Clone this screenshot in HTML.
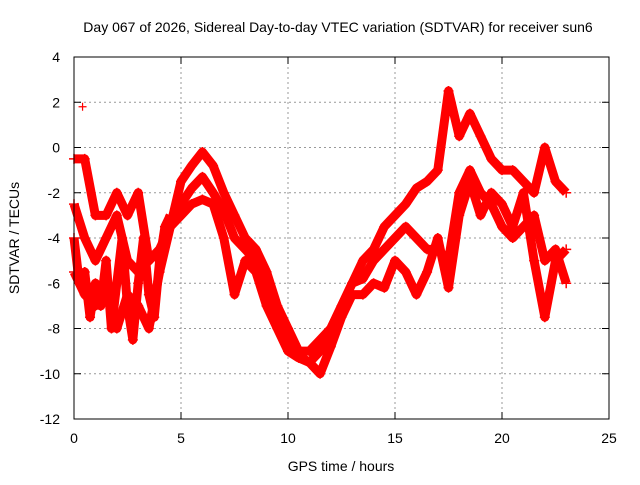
<!DOCTYPE html>
<html><head><meta charset="utf-8"><style>
body{margin:0;background:#fff;width:640px;height:480px;overflow:hidden}
svg{font-family:"Liberation Sans",sans-serif;font-size:14px}
</style></head><body>
<svg id="c" width="640" height="480">
<text x="338" y="32" text-anchor="middle">Day 067 of 2026, Sidereal Day-to-day VTEC variation (SDTVAR) for receiver sun6</text>
<text x="341" y="471" text-anchor="middle">GPS time / hours</text>
<text transform="translate(19,238) rotate(-90)" text-anchor="middle">SDTVAR / TECUs</text>
<g id="grid"></g><g id="marks"></g>
<rect x="74" y="57" width="535" height="362" fill="none" stroke="#000" stroke-width="1"/>
</svg>
<script>
const xTicks=[0,5,10,15,20,25];
const yTicks=[4,2,0,-2,-4,-6,-8,-10,-12];
const times=[0,0.5,1,1.5,2,2.5,3,3.5,4,4.5,5,5.5,6,6.5,7,7.5,8,8.5,9,9.5,10,10.5,11,11.5,12,12.5,13,13.5,14,14.5,15,15.5,16,16.5,17,17.5,18,18.5,19,19.5,20,20.5,21,21.5,22,22.5,23];
const trackUpper=[-0.5,-0.5,-3,-3,-2,-3,-2,-5,-4.5,-3.5,-1.5,-0.8,-0.2,-0.8,-2,-3,-4,-4.5,-5.5,-7,-8,-9,-9,-8.5,-8,-7,-6,-5,-4.5,-3.5,-3,-2.5,-1.8,-1.5,-1,2.5,0.5,1.5,0.5,-0.5,-1,-1,-1.5,-2,0,-1.5,-2];
const trackMiddle=[-2.5,-4,-5,-4,-3,-5,-5.5,-5,-4.5,-3.5,-2.5,-1.8,-1.3,-2,-2.8,-4,-4.5,-5,-6.5,-7.5,-8.5,-9.2,-9.5,-9,-8,-7,-6,-5.8,-5,-4.5,-4,-3.5,-4,-4.5,-4.5,-5,-2,-1,-2,-2.5,-3.5,-4,-3.5,-3,-5,-4.5,-6];
const trackLower=[-5.5,-6.5,-7,-6,-8,-6.5,-7,-8,-5.5,-3.5,-3,-2.5,-2.3,-2.5,-4,-6.5,-5,-5.5,-7,-8,-9,-9.3,-9.5,-10,-8.8,-7.5,-6.5,-6.5,-6,-6.2,-5,-5.5,-6.5,-5.5,-4,-6.2,-3,-1.5,-3,-2,-2.5,-3.5,-2,-5,-7.5,-5,-4.5];
const noisyTimes=[0,0.25,0.5,0.75,1,1.25,1.5,1.75,2,2.25,2.5,2.75,3,3.25,3.5,3.75,4,4.25,4.5];
const trackNoisy=[-4,-6,-5.5,-7.5,-6,-7,-5,-8,-6,-4,-7,-8.5,-6,-4,-6.5,-7.5,-5,-3.5,-3];
const outlierT=[0.4];
const outlierV=[1.8];
const X=t=>74+t*535/25, Y=v=>57+(4-v)*362/16;
const NS="http://www.w3.org/2000/svg";
const grid=document.getElementById('grid'), marks=document.getElementById('marks');
function mk(tag,at,parent){const e=document.createElementNS(NS,tag);for(const k in at)e.setAttribute(k,at[k]);parent.appendChild(e);return e;}
xTicks.forEach(t=>{
 if(t>0&&t<25){const l=mk('line',{x1:X(t),x2:X(t),y1:57,y2:419,stroke:'#999','stroke-dasharray':'2,3'},grid);
 
 }
 mk('line',{x1:X(t),x2:X(t),y1:419,y2:412,stroke:'#000'},grid);
 mk('line',{x1:X(t),x2:X(t),y1:57,y2:64,stroke:'#000'},grid);
 const tx=mk('text',{x:X(t),y:443,'text-anchor':'middle'},grid);tx.textContent=t;
 
 
});
yTicks.forEach(v=>{
 if(v<4&&v>-12){const l=mk('line',{x1:74,x2:609,y1:Y(v),y2:Y(v),stroke:'#999','stroke-dasharray':'2,3'},grid);
 
 }
 mk('line',{x1:74,x2:81,y1:Y(v),y2:Y(v),stroke:'#000'},grid);
 mk('line',{x1:602,x2:609,y1:Y(v),y2:Y(v),stroke:'#000'},grid);
 const tx=mk('text',{x:60,y:Y(v)+5,'text-anchor':'end'},grid);tx.textContent=v;
 
 
});
function drawTrack(ts,arr,name){
 const p=mk('polyline',{points:arr.map((v,j)=>X(ts[j])+','+Y(v)).join(' '),fill:'none',stroke:'#f00','stroke-width':9,'stroke-linejoin':'round'},marks);
 
 
 arr.forEach((v,j)=>{
  const m=mk('path',{d:`M${X(ts[j])-5},${Y(v)}h10M${X(ts[j])},${Y(v)-5}v10`,stroke:'#f00','stroke-width':1.5},marks);
  
  
 });
}
drawTrack(times,trackUpper,'sdtvar-track-upper');
drawTrack(times,trackMiddle,'sdtvar-track-middle');
drawTrack(times,trackLower,'sdtvar-track-lower');
drawTrack(noisyTimes,trackNoisy,'sdtvar-track-noisy');
outlierT.forEach((t,j)=>{
 const m=mk('path',{d:`M${X(t)-4},${Y(outlierV[j])}h8M${X(t)},${Y(outlierV[j])-4}v8`,stroke:'#f00','stroke-width':1.2},marks);
 
 
});
</script>
</body></html>
